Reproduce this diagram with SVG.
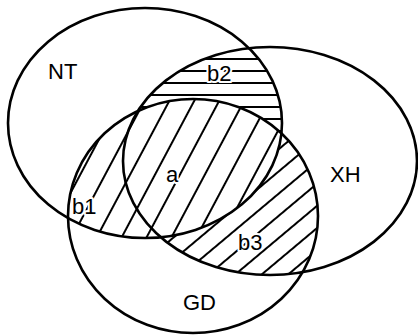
<svg xmlns="http://www.w3.org/2000/svg" width="418" height="335" viewBox="0 0 418 335">
<style>
.ell{fill:none;stroke:#000;stroke-width:2.6}
.lbl{font-family:"Liberation Sans",Arial,sans-serif;font-size:22px;fill:#000;stroke:#fff;stroke-width:4;paint-order:stroke;stroke-linejoin:round}
.h{stroke:#000;stroke-width:2.2}
</style>
<defs>
<pattern id="steep" patternUnits="userSpaceOnUse" width="20" height="22" patternTransform="translate(98,235) rotate(-62)">
<path class="h" d="M-1,0H21M-1,22H21"/>
</pattern>
<pattern id="shallow" patternUnits="userSpaceOnUse" width="20" height="17" patternTransform="translate(237,273) rotate(-40)">
<path class="h" d="M-1,0H21M-1,17H21"/>
</pattern>
<pattern id="horiz" patternUnits="userSpaceOnUse" width="20" height="12" patternTransform="translate(0,59)">
<path class="h" d="M-1,0H21M-1,12H21"/>
</pattern>
<clipPath id="cNT"><ellipse cx="145" cy="123" rx="137" ry="115"/></clipPath>
<clipPath id="cXH"><ellipse cx="270" cy="161" rx="147" ry="114"/></clipPath>
<clipPath id="cGD"><ellipse cx="193" cy="216" rx="125" ry="117"/></clipPath>
<mask id="mNotGD"><rect width="418" height="335" fill="#fff"/><ellipse cx="193" cy="216" rx="125" ry="117" fill="#000"/></mask>
<mask id="mNotNT"><rect width="418" height="335" fill="#fff"/><ellipse cx="145" cy="123" rx="137" ry="115" fill="#000"/></mask>
</defs>
<rect width="418" height="335" fill="#fff"/>
<g id="hatching">
<g clip-path="url(#cGD)"><rect width="418" height="335" fill="url(#steep)" clip-path="url(#cNT)"/></g>
<g clip-path="url(#cGD)"><g clip-path="url(#cXH)"><rect width="418" height="335" fill="url(#shallow)" mask="url(#mNotNT)"/></g></g>
<g clip-path="url(#cNT)"><g clip-path="url(#cXH)"><rect width="418" height="335" fill="url(#horiz)" mask="url(#mNotGD)"/></g></g>
</g>
<g id="NT"><ellipse class="ell" cx="145" cy="123" rx="137" ry="115"/><text class="lbl" x="48" y="79">NT</text></g>
<g id="XH"><ellipse class="ell" cx="270" cy="161" rx="147" ry="114"/><text class="lbl" x="330" y="182">XH</text></g>
<g id="GD"><ellipse class="ell" cx="193" cy="216" rx="125" ry="117"/><text class="lbl" x="183" y="310">GD</text></g>
<g id="b2"><text class="lbl" x="207" y="81">b2</text></g>
<g id="a"><text class="lbl" x="166" y="182">a</text></g>
<g id="b1"><text class="lbl" x="72" y="214">b1</text></g>
<g id="b3"><text class="lbl" x="238" y="250">b3</text></g>
</svg>
